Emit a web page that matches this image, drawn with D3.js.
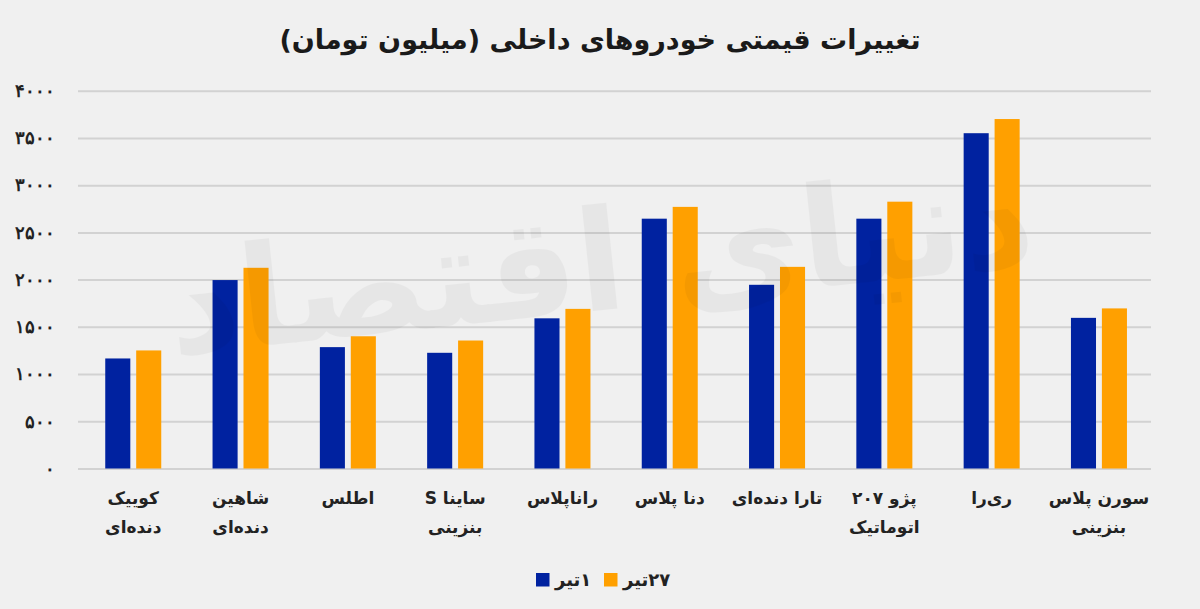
<!DOCTYPE html>
<html>
<head>
<meta charset="utf-8">
<script src="https://cdn.jsdelivr.net/npm/d3@7"></script>
<style>
  body { margin: 0; background: #f0f0f0; }
  svg { display: block; font-family: "DejaVu Sans", sans-serif; }
</style>
</head>
<body>
<div id="wrapper"></div>
<script>
// data
const categories = [
  ["کوییک", "دنده‌ای"],
  ["شاهین", "دنده‌ای"],
  ["اطلس"],
  ["ساینا S", "بنزینی"],
  ["راناپلاس"],
  ["دنا پلاس"],
  ["تارا  دنده‌ای"],
  ["پژو ۲۰۷", "اتوماتیک"],
  ["ری‌را"],
  ["سورن پلاس", "بنزینی"],
]
const seriesNames = ["۱تیر", "۲۷تیر"]
const tir1 = [1165, 1995, 1285, 1225, 1590, 2645, 1945, 2645, 3550, 1595]
const tir27 = [1250, 2125, 1400, 1355, 1690, 2770, 2135, 2825, 3700, 1695]
const yTicks = [0, 500, 1000, 1500, 2000, 2500, 3000, 3500, 4000]
const colors = ["#0022a0", "#ffa000"]

const toFa = s => String(s).replace(/\d/g, d => "۰۱۲۳۴۵۶۷۸۹"[d])

const dimensions = {
  width: 1200,
  height: 609,
  gridLeft: 78,
  gridRight: 1151,
  top: 90.7,
  bottom: 468.5,
}

const svg = d3.select("#wrapper")
  .append("svg")
    .attr("width", dimensions.width)
    .attr("height", dimensions.height)

svg.append("rect")
    .attr("width", dimensions.width)
    .attr("height", dimensions.height)
    .attr("fill", "#f0f0f0")

// scales
const idx = d3.range(categories.length)
const xScale = d3.scaleBand()
  .domain(idx)
  .range([79.6, 1152.6])
  .paddingInner(0.478)
  .paddingOuter(0.239)

const xInner = d3.scaleBand()
  .domain([0, 1])
  .range([0, xScale.bandwidth()])
  .paddingInner(0.19)

const yScale = d3.scaleLinear()
  .domain([0, 4000])
  .range([dimensions.bottom, dimensions.top])

// grid + y axis
const yAxisGenerator = d3.axisLeft(yScale)
  .tickValues(yTicks)
  .tickSize(-(dimensions.gridRight - dimensions.gridLeft))
  .tickPadding(23)
  .tickFormat(toFa)

const yAxis = svg.append("g")
    .attr("transform", `translate(${dimensions.gridLeft},0)`)
    .call(yAxisGenerator)
yAxis.select(".domain").remove()
yAxis.selectAll("line")
    .attr("stroke", "#d2d2d2")
    .attr("stroke-width", 2)
yAxis.selectAll("text")
    .attr("font-size", 18)
    .attr("font-weight", "bold")
    .attr("fill", "#222")

// bars
const series = [tir1, tir27]
const groups = svg.append("g")
  .selectAll("g")
  .data(idx)
  .join("g")
    .attr("transform", i => `translate(${xScale(i)},0)`)

groups.selectAll("rect")
  .data(i => series.map((s, k) => ({ k, v: s[i] })))
  .join("rect")
    .attr("x", d => xInner(d.k))
    .attr("width", xInner.bandwidth())
    .attr("y", d => yScale(d.v))
    .attr("height", d => yScale(0) - yScale(d.v))
    .attr("fill", d => colors[d.k])

// watermark (faint, over the bars)
svg.append("text")
    .attr("x", 600)
    .attr("y", 310)
    .attr("text-anchor", "middle")
    .attr("direction", "rtl")
    .attr("font-size", 140)
    .attr("font-weight", "bold")
    .attr("fill", "#000")
    .attr("opacity", 0.035)
    .attr("transform", "rotate(-6 600 260)")
    .text("دنیای اقتصاد")

// x labels
groups.append("text")
    .attr("transform", `translate(${xScale.bandwidth() / 2},0)`)
    .attr("text-anchor", "middle")
    .attr("direction", "rtl")
    .attr("font-size", 17)
    .attr("font-weight", "bold")
    .attr("fill", "#222")
  .selectAll("tspan")
  .data(i => categories[i])
  .join("tspan")
    .attr("x", 0)
    .attr("y", (d, j) => 504 + j * 29)
    .text(d => d)

// title
svg.append("text")
    .attr("x", 600)
    .attr("y", 49)
    .attr("text-anchor", "middle")
    .attr("direction", "rtl")
    .attr("font-size", 27)
    .attr("font-weight", "bold")
    .attr("fill", "#1a1a1a")
    .text("تغییرات قیمتی خودروهای داخلی (میلیون تومان)")

// legend
const legendItems = [
  { name: seriesNames[0], color: colors[0], x: 536 },
  { name: seriesNames[1], color: colors[1], x: 604 },
]
const legend = svg.append("g")
  .selectAll("g")
  .data(legendItems)
  .join("g")
    .attr("transform", d => `translate(${d.x},573)`)
legend.append("rect")
    .attr("width", 13.5)
    .attr("height", 13.5)
    .attr("fill", d => d.color)
legend.append("text")
    .attr("x", 19)
    .attr("y", 13)
    .attr("direction", "rtl")
    .attr("text-anchor", "end")
    .attr("font-size", 18)
    .attr("font-weight", "bold")
    .attr("fill", "#222")
    .text(d => d.name)
</script>
</body>
</html>
